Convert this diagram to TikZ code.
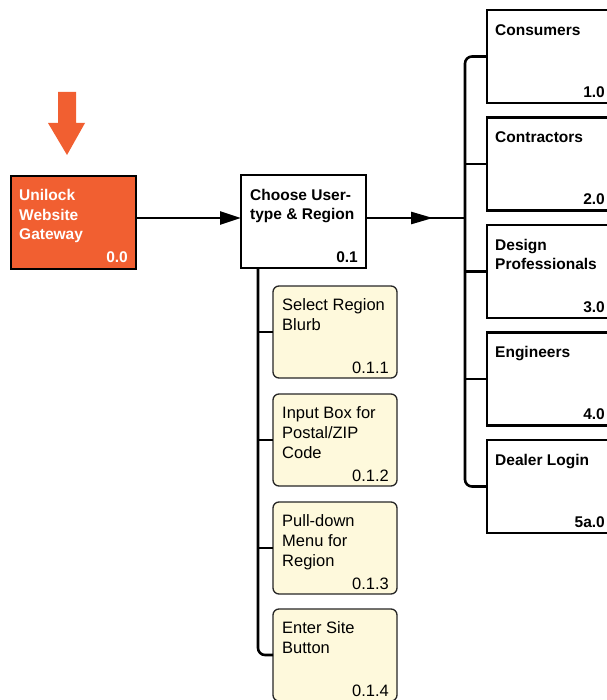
\documentclass[tikz,border=0pt]{standalone}
\usepackage{fontspec}
\setmainfont{Liberation Sans}
\usetikzlibrary{arrows.meta}
\definecolor{gworange}{HTML}{F15F31}
\definecolor{pale}{HTML}{FEF9DC}
\begin{document}
\begin{tikzpicture}[x=1bp,y=-1bp,
  conn/.style={draw=black, line width=2.6bp},
  blackbox/.style={draw=black, line width=2.6bp, fill=white, minimum width=125bp, minimum height=93bp, inner sep=0pt, outer sep=0pt, anchor=north west},
  gwbox/.style={blackbox, fill=gworange},
  ybox/.style={draw=black!85, line width=1.3bp, fill=pale, rounded corners=6bp, minimum width=124bp, minimum height=92bp, inner sep=0pt, outer sep=0pt, anchor=north west},
  ttl/.style={anchor=north west, inner sep=0pt, align=left, font=\fontsize{15.5bp}{19.5bp}\selectfont\bfseries},
  num/.style={anchor=base east, inner sep=0pt, font=\fontsize{15.5bp}{18bp}\selectfont\bfseries},
  ytxt/.style={anchor=north west, inner sep=0pt, align=left, font=\fontsize{16.5bp}{20bp}\selectfont},
  ynum/.style={anchor=base east, inner sep=0pt, font=\fontsize{16.5bp}{20bp}\selectfont}
]
\useasboundingbox (0,0) rectangle (607,700);
\clip (0,0) rectangle (607,700);

% orange entry arrow
\fill[gworange] (58,92) -- (76,92) -- (76,123) -- (85,123) -- (67,155) -- (48,123) -- (58,123) -- cycle;

% gateway
\node[gwbox] (gw) at (11,176) {};
\node[ttl, text=white] (gwt) at ([shift={(8,13.5)}]gw.north west) {Unilock\\Website\\Gateway};
\node[num, text=white] (gwn) at ([shift={(-8,-7)}]gw.south east) {0.0};

% choose
\node[blackbox] (ch) at (241,175) {};
\node[ttl] (cht) at ([shift={(9,14)}]ch.north west) {Choose User-\\type \& Region};
\node[num] (chn) at ([shift={(-8,-6)}]ch.south east) {0.1};

% right boxes
\node[blackbox, minimum width=126bp] (r1) at (487,10) {};
\node[blackbox, minimum width=126bp] (r2) at (487,117.5) {};
\node[blackbox, minimum width=126bp] (r3) at (487,225) {};
\node[blackbox, minimum width=126bp] (r4) at (487,332.5) {};
\node[blackbox, minimum width=126bp] (r5) at (487,440) {};
\node[ttl] (r1t) at ([shift={(8,14)}]r1.north west) {Consumers};
\node[ttl] (r2t) at ([shift={(8,14)}]r2.north west) {Contractors};
\node[ttl] (r3t) at ([shift={(8,14)}]r3.north west) {Design\\Professionals};
\node[ttl] (r4t) at ([shift={(8,14)}]r4.north west) {Engineers};
\node[ttl] (r5t) at ([shift={(8,14)}]r5.north west) {Dealer Login};
\node[num] (r1n) at ([shift={(-8,-6)}]r1.south east) {1.0};
\node[num] (r2n) at ([shift={(-8,-6)}]r2.south east) {2.0};
\node[num] (r3n) at ([shift={(-8,-6)}]r3.south east) {3.0};
\node[num] (r4n) at ([shift={(-8,-6)}]r4.south east) {4.0};
\node[num] (r5n) at ([shift={(-8,-6)}]r5.south east) {5a.0};

% yellow boxes
\node[ybox] (y1) at (273,286) {};
\node[ybox] (y2) at (273,394) {};
\node[ybox] (y3) at (273,502) {};
\node[ybox] (y4) at (273,609) {};
\node[ytxt] (y1t) at ([shift={(9,12.5)}]y1.north west) {Select Region\\Blurb};
\node[ytxt] (y2t) at ([shift={(9,12.5)}]y2.north west) {Input Box for\\Postal/ZIP\\Code};
\node[ytxt] (y3t) at ([shift={(9,12.5)}]y3.north west) {Pull-down\\Menu for\\Region};
\node[ytxt] (y4t) at ([shift={(9,12.5)}]y4.north west) {Enter Site\\Button};
\node[ynum] (y1n) at ([shift={(-8,-5)}]y1.south east) {0.1.1};
\node[ynum] (y2n) at ([shift={(-8,-5)}]y2.south east) {0.1.2};
\node[ynum] (y3n) at ([shift={(-8,-5)}]y3.south east) {0.1.3};
\node[ynum] (y4n) at ([shift={(-8,-5)}]y4.south east) {0.1.4};

% connectors
\coordinate (rbus) at (465,218);
\coordinate (amid) at (433,218);
\coordinate (lbus) at (258,268);

\draw[conn, -{Triangle[length=21bp,width=13bp]}] (gw.east |- rbus) -- (ch.west |- rbus);
\draw[conn] (ch.east |- rbus) -- (rbus);
\draw[conn, -{Triangle[length=22bp,width=12bp]}] (ch.east |- rbus) -- (amid);

\draw[conn, rounded corners=7bp] (r1.west) -- (r1.west -| rbus) -- (r5.west -| rbus) -- (r5.west);
\draw[conn] (r2.west -| rbus) -- (r2.west);
\draw[conn] (r3.west -| rbus) -- (r3.west);
\draw[conn] (r4.west -| rbus) -- (r4.west);

\draw[conn, rounded corners=7bp] (lbus) -- (y4.west -| lbus) -- (y4.west);
\draw[conn] (y1.west -| lbus) -- (y1.west);
\draw[conn] (y2.west -| lbus) -- (y2.west);
\draw[conn] (y3.west -| lbus) -- (y3.west);
\end{tikzpicture}
\end{document}
